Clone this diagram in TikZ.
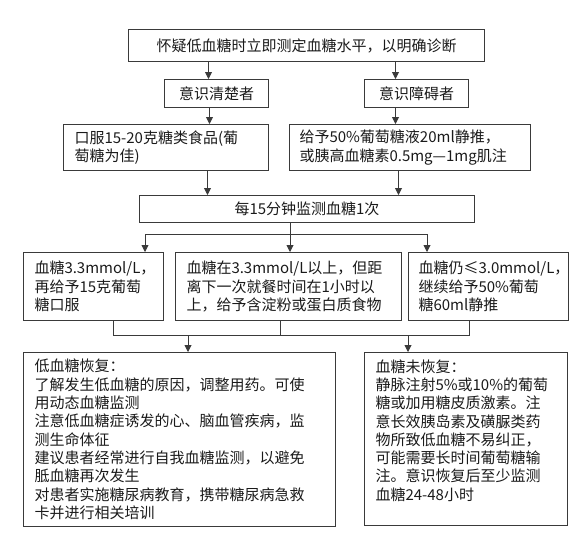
\documentclass[tikz,border=0pt]{standalone}
\usepackage{fontspec}
\setmainfont{Noto Sans CJK SC}
\usetikzlibrary{arrows.meta}
\definecolor{bdr}{HTML}{3A3A3A}
\definecolor{txt}{HTML}{1A1A1A}
\tikzset{
  boxc/.style={draw=bdr, line width=1pt, anchor=north west, inner ysep=0pt, align=center, text=txt,
    font=\fontsize{15}{18.3}\selectfont},
  boxl/.style={boxc, align=left},
  conn/.style={draw=bdr, line width=0.9pt},
  arr/.style={conn, -{Triangle[width=7pt,length=7pt]}},
}
\begin{document}
\begin{tikzpicture}[x=1pt,y=1pt]
\useasboundingbox (0,0) rectangle (588,-550);
% top
\node[boxc, minimum width=356pt, minimum height=32pt, inner xsep=0pt] (top) at (128,-29)
  {怀疑低血糖时立即测定血糖水平，以明确诊断};
\node[boxc, minimum width=104pt, minimum height=28pt, inner xsep=0pt] (A1) at (164,-79) {意识清楚者};
\node[boxc, minimum width=104pt, minimum height=28pt, inner xsep=0pt] (A2) at (364,-79) {意识障碍者};
% row 2
\node[boxl, minimum height=46pt, inner xsep=11pt, text width=183pt] (B1) at (63,-124)
  {口服15-20克糖类食品(葡\\萄糖为佳)};
\node[boxl, minimum height=46pt, inner xsep=10pt, text width=221pt] (B2) at (289,-124)
  {给予50\%葡萄糖液20ml静推，\\或胰高血糖素0.5mg—1mg肌注};
% C
\node[boxc, minimum width=335pt, minimum height=27pt, inner xsep=0pt] (C) at (139,-195)
  {每15分钟监测血糖1次};
% row 3
\node[boxl, minimum height=68pt, inner xsep=11pt, text width=118pt] (D1) at (23,-252)
  {血糖3.3mmol/L，\\再给予15克葡萄\\糖口服};
\node[boxl, minimum height=68pt, inner xsep=11pt, text width=204pt] (D2) at (175,-252)
  {血糖在3.3mmol/L以上，但距\\离下一次就餐时间在1小时以\\上，给予含淀粉或蛋白质食物};
\node[boxl, minimum height=68pt, inner xsep=10pt, text width=140pt] (D3) at (408,-252)
  {血糖仍≤3.0mmol/L，\\继续给予50\%葡萄\\糖60ml静推};
% bottom
\node[boxl, minimum height=174pt, inner xsep=11pt, text width=290pt] (E1) at (23,-352)
  {低血糖恢复：\\了解发生低血糖的原因，调整用药。可使\\用动态血糖监测\\注意低血糖症诱发的心、脑血管疾病，监\\测生命体征\\建议患者经常进行自我血糖监测，以避免\\胝血糖再次发生\\对患者实施糖尿病教育，携带糖尿病急救\\卡并进行相关培训};
\node[boxl, minimum height=173pt, inner xsep=11pt, text width=181pt] (E2) at (364,-352)
  {血糖未恢复：\\静脉注射5\%或10\%的葡萄\\糖或加用糖皮质激素。注\\意长效胰岛素及磺脲类药\\物所致低血糖不易纠正，\\可能需要长时间葡萄糖输\\注。意识恢复后至少监测\\血糖24-48小时\\\mbox{}};
% connectors
\draw[arr] ([xshift=-8pt]A1.north |- top.south) -- ([xshift=-8pt]A1.north);
\draw[arr] ([xshift=-21pt]A2.north |- top.south) -- ([xshift=-21pt]A2.north);
\draw[arr] ([xshift=-7pt]A1.south) -- ([xshift=-7pt]A1.south |- B1.north);
\draw[arr] ([xshift=-21pt]A2.south) -- ([xshift=-21pt]A2.south |- B2.north);
\draw[arr] ([xshift=41.5pt]B1.south) -- ([xshift=41.5pt]B1.south |- C.north);
\draw[arr] ([xshift=-11.5pt]B2.south) -- ([xshift=-11.5pt]B2.south |- C.north);
\coordinate (h1) at (145,-234);
\coordinate (hm) at (290,-234);
\coordinate (h3) at (427,-234);
\draw[conn] (h1) -- (h3);
\draw[conn] (C.south -| hm) -- (hm);
\draw[arr] (h1) -- (D1.north -| h1);
\draw[arr] (hm) -- (D2.north -| hm);
\draw[arr] (h3) -- (D3.north -| h3);
\coordinate (g1) at (113,-335);
\coordinate (g2) at (280,-335);
\coordinate (g3) at (469,-335);
\coordinate (ga) at (188,-335);
\coordinate (gb) at (408,-335);
\draw[conn] (D1.south -| g1) -- (g1) -- (g3) -- (D3.south -| g3);
\draw[conn] (D2.south -| g2) -- (g2);
\draw[arr] (ga) -- (E1.north -| ga);
\draw[arr] (gb) -- (E2.north -| gb);
\end{tikzpicture}
\end{document}
